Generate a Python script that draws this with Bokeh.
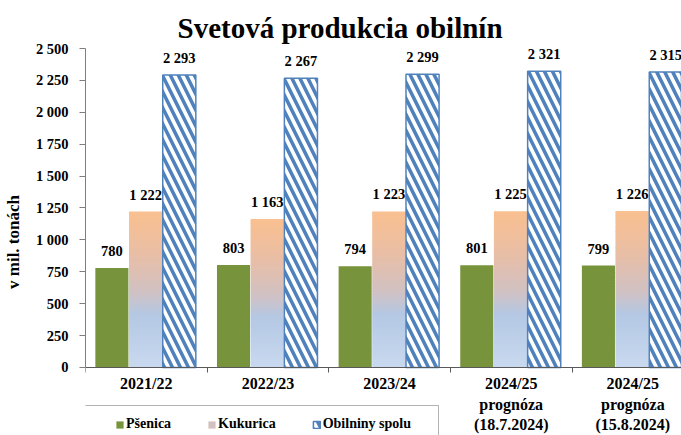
from bokeh.plotting import figure
from bokeh.models import (Range1d, FixedTicker, Legend, LegendItem, BoxAnnotation,
                          ColumnDataSource, LabelSet)
from bokeh.embed import file_html
from bokeh.resources import INLINE

# ---- data ----
categories = ["2021/22", "2022/23", "2023/24",
              "2024/25\nprognóza\n(18.7.2024)", "2024/25\nprognóza\n(15.8.2024)"]
psenica = [780, 803, 794, 801, 799]
kukurica = [1222, 1163, 1223, 1225, 1226]
obilniny = [2293, 2267, 2299, 2321, 2315]
series_names = ["Pšenica", "Kukurica", "Obilniny spolu"]
y_ticks = [0, 250, 500, 750, 1000, 1250, 1500, 1750, 2000, 2250, 2500]
y_tick_labels = ["0", "250", "500", "750", "1 000", "1 250", "1 500", "1 750",
                 "2 000", "2 250", "2 500"]

FONT = "Liberation Serif"
GREEN = "#77933C"
BLUE = "#4F81BD"

def fmt(v):
    return f"{v:,}".replace(",", " ")

# frame spans down to the canvas bottom; the value axis covers 0..2500
p = figure(width=681, height=435, output_backend="svg", toolbar_location=None,
           x_range=Range1d(0, 4.9), y_range=Range1d(-533, 2500),
           min_border_left=84, min_border_right=0, min_border_top=48,
           min_border_bottom=0)
p.outline_line_color = None
p.xgrid.visible = False
p.ygrid.visible = False
p.background_fill_color = "white"
p.border_fill_color = "white"

p.title.text = "Svetová produkcia obilnín"
p.title.text_font = FONT
p.title.text_font_size = "29px"
p.title.text_font_style = "bold"
p.title.text_color = "black"
p.title.align = "left"
p.title.offset = 92
p.title.standoff = 10

n = len(categories)
centers = [i + 0.5 for i in range(n)]
shift = -0.006
off = 0.277
bw = 0.272

src = ColumnDataSource(dict(
    x_p=[c + shift - off for c in centers], p=psenica,
    x_k=[c + shift for c in centers], k=kukurica,
    x_o=[c + shift + off for c in centers], o=obilniny,
    lp=[fmt(v) for v in psenica], lk=[fmt(v) for v in kukurica],
    lo=[fmt(v) for v in obilniny]))

r_p = p.vbar(x="x_p", top="p", width=bw, source=src, fill_color=GREEN, line_color=None)

# gradient-filled corn bars (orange at top -> light blue at bottom)
stops = [(0.0, (250, 192, 144)), (0.28, (232, 190, 166)), (0.52, (208, 193, 196)),
         (0.66, (180, 200, 228)), (1.0, (200, 217, 239))]

def grad(f):
    for (f0, c0), (f1, c1) in zip(stops[:-1], stops[1:]):
        if f0 <= f <= f1:
            t = (f - f0) / (f1 - f0)
            c = [round(a + (b - a) * t) for a, b in zip(c0, c1)]
            return "#%02x%02x%02x" % tuple(c)
    return "#%02x%02x%02x" % stops[-1][1]

N = 60
gx, gb, gt, gc = [], [], [], []
for c, v in zip(centers, kukurica):
    for k in range(N):
        gx.append(c + shift)
        gb.append(v * k / N)
        gt.append(v * min(k + 1.6, N) / N)
        gc.append(grad(1 - (k + 0.5) / N))
gsrc = ColumnDataSource(dict(x=gx, bottom=gb, top=gt, color=gc))
r_k = p.vbar(x="x", bottom="bottom", top="top", width=bw, source=gsrc,
             fill_color="color", line_color=None)

r_o = p.vbar(x="x_o", top="o", width=bw, source=src, fill_color="white",
             line_color=BLUE, line_width=1.5, hatch_pattern="\\",
             hatch_color=BLUE, hatch_scale=16, hatch_weight=3.5)

for xcol, ycol, tcol in (("x_p", "p", "lp"), ("x_k", "k", "lk"), ("x_o", "o", "lo")):
    ls = LabelSet(x=xcol, y=ycol, text=tcol, source=src, text_align="center",
                  text_baseline="alphabetic", y_offset=12, text_font=FONT,
                  text_font_size="14.5px", text_font_style="bold", text_color="black")
    p.add_layout(ls)

# value axis
p.yaxis.ticker = FixedTicker(ticks=y_ticks)
p.yaxis.bounds = (0, 2500)
p.yaxis.major_label_overrides = {t: l for t, l in zip(y_ticks, y_tick_labels)}
p.yaxis.minor_tick_line_color = None
p.yaxis.major_tick_out = 6
p.yaxis.major_tick_in = 0
p.yaxis.axis_line_color = "#7f7f7f"
p.yaxis.major_tick_line_color = "#7f7f7f"
p.yaxis.major_label_text_font = FONT
p.yaxis.major_label_text_font_size = "14.5px"
p.yaxis.major_label_text_font_style = "bold"
p.yaxis.major_label_text_color = "black"
p.yaxis.major_label_standoff = 11
p.yaxis.axis_label = "v mil. tonách"
p.yaxis.axis_label_text_font = FONT
p.yaxis.axis_label_text_font_size = "17px"
p.yaxis.axis_label_text_font_style = "bold"
p.yaxis.axis_label_text_color = "black"
p.yaxis.axis_label_standoff = 10

# category axis drawn at value 0
p.xaxis.fixed_location = 0
p.xaxis.ticker = FixedTicker(ticks=centers, minor_ticks=list(range(n + 1)))
p.xaxis.major_label_overrides = {c: l for c, l in zip(centers, categories)}
p.xaxis.major_tick_line_color = None
p.xaxis.major_tick_out = 0
p.xaxis.major_tick_in = 0
p.xaxis.minor_tick_line_color = "#595959"
p.xaxis.minor_tick_out = 5
p.xaxis.minor_tick_in = 0
p.xaxis.axis_line_color = "#595959"
p.xaxis.major_label_text_font = FONT
p.xaxis.major_label_text_font_size = "16px"
p.xaxis.major_label_text_font_style = "bold"
p.xaxis.major_label_text_color = "black"
p.xaxis.major_label_text_line_height = 1.2
p.xaxis.major_label_standoff = 3

# legend box + legend
box = BoxAnnotation(left=79, right=438, top=405, bottom=445,
                    left_units="canvas", right_units="canvas",
                    top_units="canvas", bottom_units="canvas",
                    fill_color="white", fill_alpha=1.0,
                    line_color="black", line_width=1)
p.add_layout(box)

legend = Legend(items=[LegendItem(label=series_names[0], renderers=[r_p]),
                       LegendItem(label=series_names[1], renderers=[r_k], index=N // 2),
                       LegendItem(label=series_names[2], renderers=[r_o])],
                orientation="horizontal", location=(30, 3), padding=0, margin=0,
                spacing=36, glyph_width=9, glyph_height=9, label_standoff=2,
                label_text_font=FONT, label_text_font_size="14px",
                label_text_font_style="bold", label_text_color="black",
                border_line_color=None, background_fill_alpha=0)
p.add_layout(legend, "center")

open("out.html", "w").write(file_html(p, INLINE))
